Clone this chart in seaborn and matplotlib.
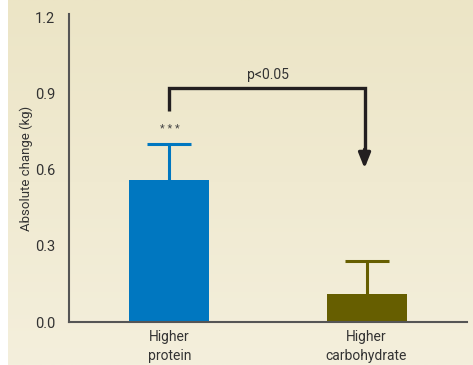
import numpy as np
import pandas as pd
import matplotlib
matplotlib.use("Agg")
import matplotlib.pyplot as plt
import seaborn as sns

# Data
groups = ["Higher\nprotein", "Higher\ncarbohydrate"]
change_kg = [0.56, 0.11]
error_kg = [0.14, 0.13]
bar_colors = ["#0077c0", "#665e00"]
y_ticks = [0.0, 0.3, 0.6, 0.9, 1.2]

sns.set_theme(style="white")
plt.rcParams["font.family"] = ["Roboto", "DejaVu Sans"]

W, H, DPI = 473, 365, 100
fig = plt.figure(figsize=(W / DPI, H / DPI), dpi=DPI, facecolor="white")

# Beige gradient panel behind the chart
bg = fig.add_axes([8 / W, 0, 1 - 8 / W, 1], zorder=0)
top = np.array([236, 229, 198]) / 255
bot = np.array([244, 239, 220]) / 255
t = np.linspace(0, 1, 256)[:, None]
grad = top[None, :] * (1 - t) + bot[None, :] * t
bg.imshow(grad[:, None, :], aspect="auto", extent=[0, 1, 0, 1])
bg.set_axis_off()

ax = fig.add_axes([69 / W, 1 - 322 / H, (467 - 69) / W, (322 - 14) / H], zorder=1)
ax.patch.set_alpha(0)

df = pd.DataFrame({"group": groups, "change": change_kg})
sns.barplot(data=df, x="group", y="change", hue="group", palette=bar_colors,
            width=0.406, legend=False, ax=ax, saturation=1, edgecolor="none")

# Upper-only error bars
for i, (v, e, c) in enumerate(zip(change_kg, error_kg, bar_colors)):
    eb = ax.errorbar(i, v, yerr=[[0], [e]], fmt="none", ecolor=c, elinewidth=2.2,
                     capsize=15.5, capthick=2.2, zorder=3)
    caps = eb.lines[1]
    if len(caps) > 1:
        caps[0].set_visible(False)

# Significance bracket with arrow
y_br = 0.922
ax.plot([0, 0, 0.99, 0.99], [0.831, y_br, y_br, 0.67], color="#231f20",
        lw=2.4, solid_joinstyle="miter", solid_capstyle="butt", zorder=4)
ax.annotate("", xy=(0.99, 0.605), xytext=(0.99, 0.68),
            arrowprops=dict(arrowstyle="-|>,head_length=0.75,head_width=0.3",
                            color="#231f20", lw=2.4, shrinkA=0, shrinkB=0))
ax.text(0.5, 0.972, "p<0.05", ha="center", va="center", fontsize=10, color="#333333")
ax.text(0.0, 0.762, "* * *", ha="center", va="center", fontsize=8, color="#444444")

ax.set_xlim(-0.51, 1.51)
ax.set_ylim(0, 1.213)
ax.set_yticks(y_ticks)
ax.set_yticklabels([f"{v:.1f}" for v in y_ticks])
ax.set_xlabel("")
ax.set_ylabel("Absolute change (kg)", fontsize=9.5, color="#333333")
ax.yaxis.set_label_coords(-0.09, 0.5)
ax.tick_params(axis="both", length=0, labelsize=10.5, colors="#333333")
ax.tick_params(axis="y", pad=10)
ax.tick_params(axis="x", pad=6)
for lbl in ax.get_xticklabels():
    lbl.set_fontsize(10)
    lbl.set_linespacing(1.45)

for s in ["top", "right"]:
    ax.spines[s].set_visible(False)
for s in ["left", "bottom"]:
    ax.spines[s].set_color("#555555")
    ax.spines[s].set_linewidth(1.5)

fig.savefig("out.png", dpi=DPI, facecolor="white")
